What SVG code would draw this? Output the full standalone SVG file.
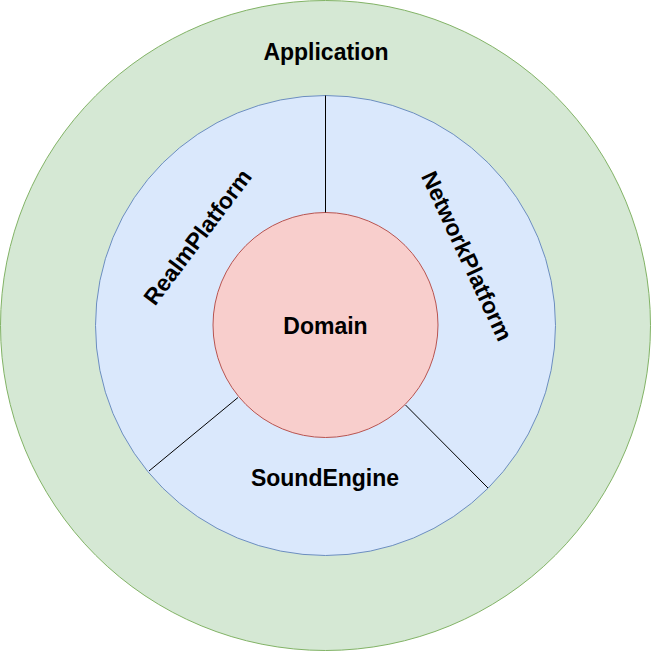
<svg xmlns="http://www.w3.org/2000/svg" width="651" height="651" viewBox="0 0 651 651">
<style>
.lbl{font-family:"Liberation Sans",Arial,Helvetica,sans-serif;font-weight:bold;font-size:23px;fill:#000;text-anchor:middle;dominant-baseline:central}
.conn{stroke:#000;stroke-width:1;fill:none}
</style>
<rect width="651" height="651" fill="#fff"/>
<g id="application">
<circle cx="325.5" cy="325.5" r="325" fill="#d5e8d4" stroke="#82b366"/>
<text class="lbl" x="326" y="52">Application</text>
</g>
<g id="platforms">
<circle cx="325.5" cy="325.5" r="230" fill="#dae8fc" stroke="#6c8ebf"/>
</g>
<g id="domain">
<circle cx="325.5" cy="325" r="112.5" fill="#f8cecc" stroke="#b85450"/>
<text class="lbl" x="325.5" y="326">Domain</text>
</g>
<g id="connectors">
<line class="conn" x1="325.5" y1="95.5" x2="325.5" y2="212.5"/>
<line class="conn" x1="238" y1="397.5" x2="149" y2="471"/>
<line class="conn" x1="405.5" y1="405" x2="488" y2="488"/>
</g>
<g id="realmplatform">
<text class="lbl" x="197.5" y="237" transform="rotate(-53 197.5 237)">RealmPlatform</text>
</g>
<g id="networkplatform">
<text class="lbl" x="467" y="256" transform="rotate(65 467 256)">NetworkPlatform</text>
</g>
<g id="soundengine">
<text class="lbl" x="325" y="478">SoundEngine</text>
</g>
</svg>
